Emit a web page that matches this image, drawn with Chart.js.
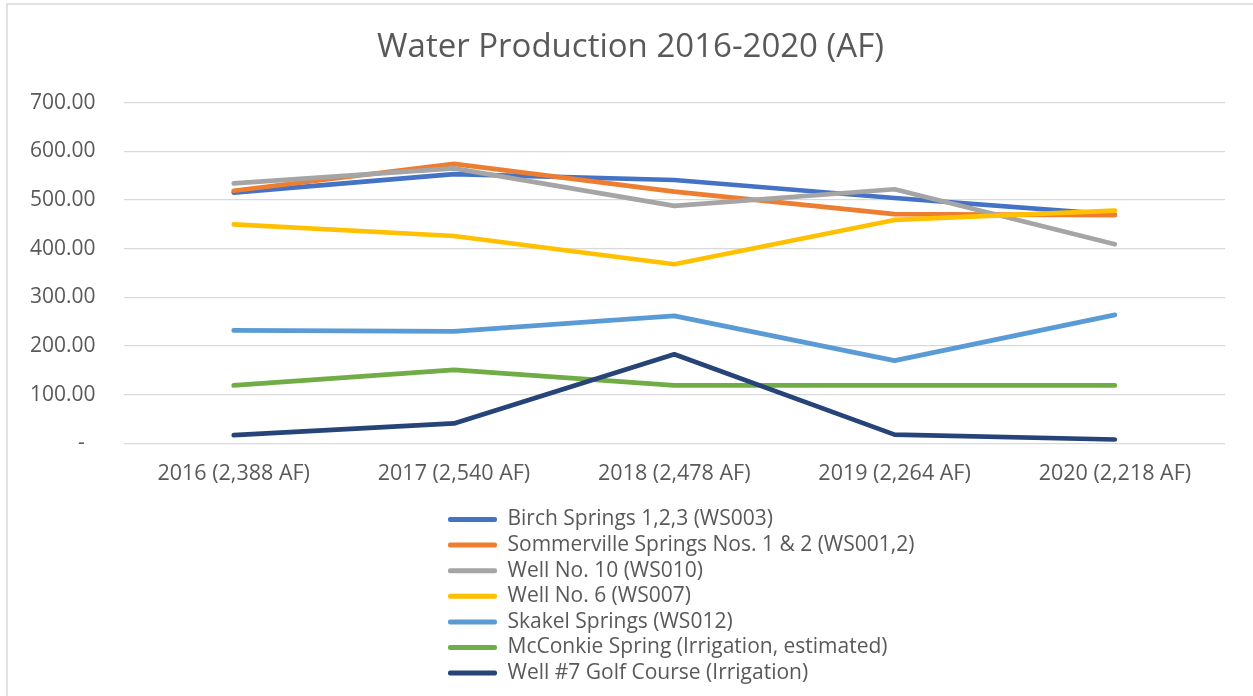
<!DOCTYPE html>
<html><head><meta charset="utf-8">
<script src="https://cdn.jsdelivr.net/npm/chart.js@4.4.1/dist/chart.umd.min.js"></script>
<style>html,body{margin:0;padding:0;background:#fff;} #wrap{position:relative;width:1253px;height:696px;}</style>
</head><body><div id="wrap"><canvas id="c" width="1253" height="696"></canvas></div>
<script>
const categories = ['2016 (2,388 AF)', '2017 (2,540 AF)', '2018 (2,478 AF)', '2019 (2,264 AF)', '2020 (2,218 AF)'];
const seriesNames = [
  'Birch Springs 1,2,3 (WS003)',
  'Sommerville Springs Nos. 1 & 2 (WS001,2)',
  'Well No. 10 (WS010)',
  'Well No. 6 (WS007)',
  'Skakel Springs (WS012)',
  'McConkie Spring (Irrigation, estimated)',
  'Well #7 Golf Course (Irrigation)'
];
const birch       = [515, 553, 541, 504, 470];
const sommerville = [519, 574, 517, 471, 469];
const well10      = [534, 565, 488, 522, 409];
const well6       = [450, 426, 368, 459, 478];
const skakel      = [232, 230, 262, 170, 264];
const mcconkie    = [119, 151, 119, 119, 119];
const well7       = [17, 41, 183, 18, 8];
const yTickValues = [0, 100, 200, 300, 400, 500, 600, 700];
const chartTitle = 'Water Production 2016-2020 (AF)';

const seriesValues = [birch, sommerville, well10, well6, skakel, mcconkie, well7];
const seriesColors = ['#4472C4', '#ED7D31', '#A5A5A5', '#FFC000', '#5B9BD5', '#70AD47', '#264478'];

Chart.defaults.font.family = "'Open Sans', 'DejaVu Sans', sans-serif";
Chart.defaults.color = '#595959';

const framePlugin = {
  id: 'frame',
  beforeDraw(chart) {
    const ctx = chart.ctx;
    ctx.save();
    ctx.strokeStyle = '#d9d9d9';
    ctx.lineWidth = 1.5;
    ctx.strokeRect(7, 4, 1400, 900);
    ctx.restore();
  }
};

// stack legend entries one per row below the plot; centre title on the frame
const legendPlace = {
  id: 'legendPlace',
  afterLayout(chart) {
    const lg = chart.legend;
    const pad = lg.options.labels.padding;
    lg.left = 448 - pad;
    lg.right = lg.left + 480;
    lg.top = 509 - pad;
    lg.bottom = chart.height;
    lg.width = lg.right - lg.left;
    lg.height = lg.bottom - lg.top;
    const tb = chart.titleBlock;
    if (tb) {
      tb.left = 7;
      tb.right = chart.width + 1;
      tb.width = tb.right - tb.left;
    }
  }
};

const datasets = seriesNames.map((name, i) => ({
  label: name,
  data: seriesValues[i],
  borderColor: seriesColors[i],
  backgroundColor: seriesColors[i],
  borderWidth: 4.7,
  pointRadius: 0,
  pointHoverRadius: 0,
  tension: 0,
  fill: false,
  borderCapStyle: 'round',
  borderJoinStyle: 'round',
  order: seriesNames.length - i
}));

new Chart(document.getElementById('c'), {
  type: 'line',
  data: { labels: categories, datasets },
  plugins: [framePlugin, legendPlace],
  options: {
    responsive: false,
    animation: false,
    layout: { padding: { left: 2, right: 28, top: 0, bottom: 104 } },
    plugins: {
      tooltip: { enabled: false },
      title: {
        display: true,
        text: chartTitle,
        color: '#595959',
        font: { size: 33, weight: 'normal' },
        padding: { top: 28, bottom: 35 }
      },
      legend: {
        position: 'bottom',
        align: 'start',
        labels: {
          boxWidth: 49,
          boxHeight: 5,
          padding: 4.6,
          color: '#595959',
          font: { size: 21 },
          useBorderRadius: true,
          borderRadius: 2,
          generateLabels: (chart) => chart.data.datasets.map((ds, i) => ({
            text: ds.label,
            fillStyle: ds.borderColor,
            strokeStyle: ds.borderColor,
            lineWidth: 0,
            hidden: false,
            datasetIndex: i,
            fontColor: '#595959',
            borderRadius: 2
          }))
        }
      }
    },
    scales: {
      x: {
        offset: true,
        grid: { display: false, drawTicks: false },
        border: { display: false },
        ticks: { padding: 18, font: { size: 21.5 }, color: '#595959', maxRotation: 0 }
      },
      y: {
        min: 0,
        max: 700,
        afterBuildTicks(scale) { scale.ticks = yTickValues.map(v => ({ value: v })); },
        grid: { color: '#d9d9d9', lineWidth: 1.3, drawTicks: false },
        border: { display: false },
        ticks: {
          padding: 28,
          font: { size: 21 },
          color: '#595959',
          callback: (v) => v === 0 ? '-  ' : v.toFixed(2)
        }
      }
    }
  }
});
</script></body></html>
